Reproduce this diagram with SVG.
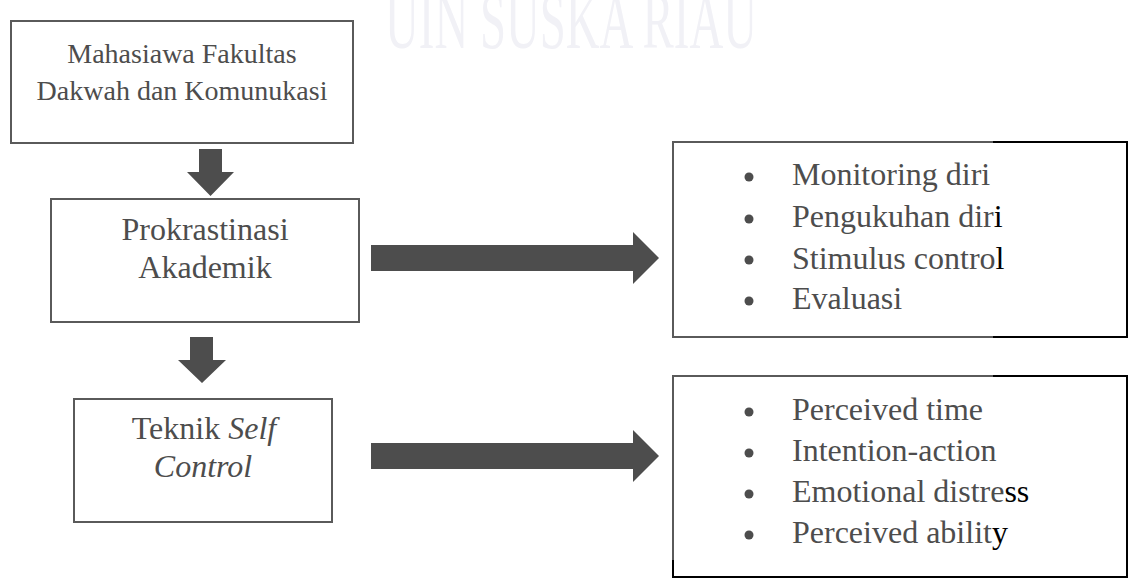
<svg xmlns="http://www.w3.org/2000/svg" width="1136" height="584" viewBox="0 0 1136 584">
  <style>
    .box { fill: none; stroke: #5a5a5a; stroke-width: 2; }
    .dark { fill: none; stroke: #000000; stroke-width: 2; }
    .t { font-family: "Liberation Serif", "Times New Roman", serif; fill: #4d4d4d; }
    .big { font-size: 28px; }
    .mid { font-size: 32px; }
    .k { fill: #000000; }
    .arrow { fill: #4d4d4d; }
    .dot { fill: #4d4d4d; }
    .wm { font-family: "Liberation Serif", "Times New Roman", serif; font-size: 80px; fill: #f1f1f6; }
  </style>
  <rect width="1136" height="584" fill="#ffffff"/>
  <text class="wm" x="385" y="48" textLength="372" lengthAdjust="spacingAndGlyphs">UIN SUSKA RIAU</text>

  <g id="node-mahasiswa">
    <rect class="box" x="11" y="21" width="342" height="122"/>
    <text class="t big" x="182" y="63" text-anchor="middle">Mahasiawa Fakultas</text>
    <text class="t big" x="182" y="100" text-anchor="middle">Dakwah dan Komunukasi</text>
  </g>

  <g id="node-prokrastinasi">
    <rect class="box" x="51" y="199" width="308" height="123"/>
    <text class="t mid" x="205" y="240" text-anchor="middle">Prokrastinasi</text>
    <text class="t mid" x="205" y="278" text-anchor="middle">Akademik</text>
  </g>

  <g id="node-teknik">
    <rect class="box" x="74" y="399" width="258" height="123"/>
    <text class="t mid" x="204" y="439" text-anchor="middle">Teknik <tspan font-style="italic">Self</tspan></text>
    <text class="t mid" x="203" y="477" text-anchor="middle" font-style="italic">Control</text>
  </g>

  <g id="node-aspek">
    <rect class="box" x="673" y="142" width="454" height="195"/>
    <path class="dark" d="M993 142 H1127 V337 H993"/>
    <circle class="dot" cx="749" cy="177" r="4.5"/>
    <circle class="dot" cx="749" cy="219" r="4.5"/>
    <circle class="dot" cx="749" cy="260" r="4.5"/>
    <circle class="dot" cx="749" cy="301" r="4.5"/>
    <text class="t mid" x="792" y="185">Monitoring diri</text>
    <text class="t mid" x="792" y="227">Pengukuhan dir<tspan class="k">i</tspan></text>
    <text class="t mid" x="792" y="269">Stimulus contro<tspan class="k">l</tspan></text>
    <text class="t mid" x="792" y="309">Evaluasi</text>
  </g>

  <g id="node-indikator">
    <rect class="box" x="673" y="376" width="454" height="201"/>
    <path class="dark" d="M993 376 H1127 V577 H673 V560"/>
    <circle class="dot" cx="749" cy="412" r="4.5"/>
    <circle class="dot" cx="749" cy="453" r="4.5"/>
    <circle class="dot" cx="749" cy="494" r="4.5"/>
    <circle class="dot" cx="749" cy="535" r="4.5"/>
    <text class="t mid" x="792" y="420">Perceived time</text>
    <text class="t mid" x="792" y="461">Intention-action</text>
    <text class="t mid" x="792" y="502">Emotional distre<tspan class="k">ss</tspan></text>
    <text class="t mid" x="792" y="543">Perceived abilit<tspan class="k">y</tspan></text>
  </g>

  <g id="connectors">
    <polygon class="arrow" points="199,149 222,149 222,172 234,172 210.5,196 187,172 199,172"/>
    <polygon class="arrow" points="190,337 213,337 213,360 226,360 202,383 178,360 190,360"/>
    <polygon class="arrow" points="371,245 633,245 633,232 659,258 633,284 633,271 371,271"/>
    <polygon class="arrow" points="371,443 633,443 633,430 659,456 633,482 633,469 371,469"/>
  </g>
</svg>
